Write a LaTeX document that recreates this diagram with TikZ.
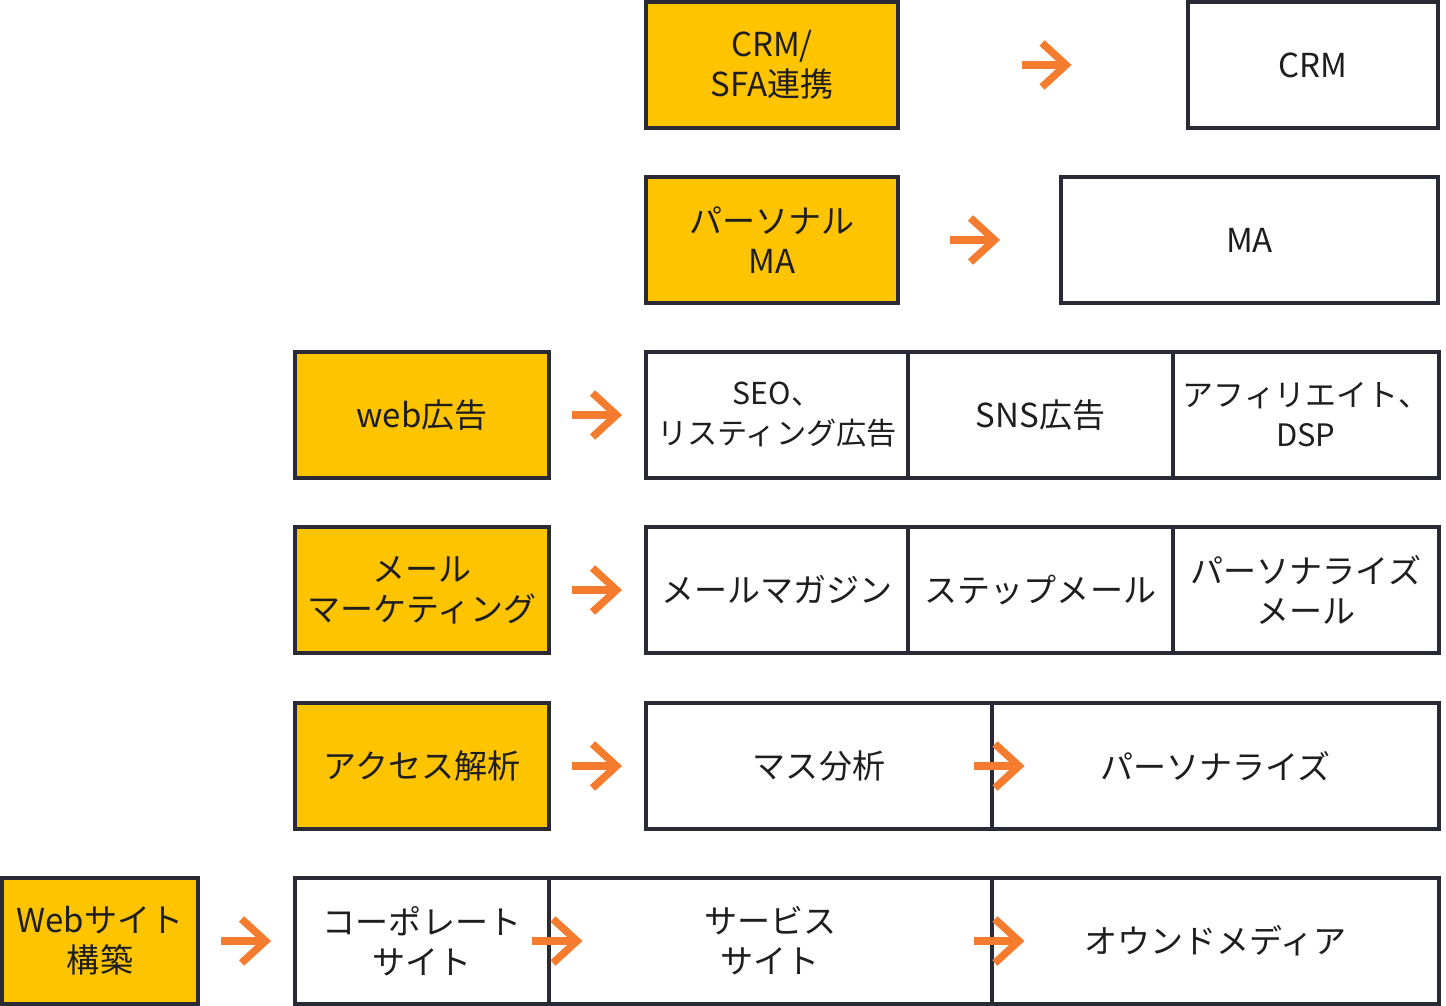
\documentclass[tikz,border=0pt]{standalone}
\usepackage{fontspec}
\setmainfont{Noto Sans CJK JP}
\usetikzlibrary{positioning,calc}
\definecolor{gold}{HTML}{FFC400}
\definecolor{edge}{HTML}{2A2936}
\definecolor{accent}{HTML}{F57C2F}
\definecolor{ink}{HTML}{1E1E1E}
\tikzstyle{plan} = [rectangle, minimum height=2.52cm, inner sep=0pt, outer sep=0pt, align=center, text=ink, draw=edge, line width=0.08cm, fill=gold, font=\fontsize{18.8}{22.7}\selectfont]
\tikzstyle{item} = [rectangle, minimum height=2.52cm, inner sep=0pt, outer sep=0pt, align=center, text=ink, draw=edge, line width=0.08cm, fill=white, font=\fontsize{18.8}{22.7}\selectfont]
\tikzstyle{tight} = [font=\fontsize{17.2}{22.7}\selectfont]
\tikzstyle{snug} = [font=\fontsize{17.6}{22.7}\selectfont]
\tikzstyle{arrowline} = [draw=accent, line width=0.15cm, miter limit=10]
\tikzset{flow/.pic={
  \draw[arrowline] (-25.5,0) -- (17,0);
  \draw[arrowline] (-5,-22) -- (19,0) -- (-5,22);
}}

\begin{document}
\begin{tikzpicture}[x=0.02cm, y=-0.02cm]
\useasboundingbox (0,0) rectangle (1446,1006);
% CRM/SFA
\node (crmsfa) [plan, minimum width=5.04cm] at (772,65) {CRM/\\SFA連携};
\node (crm) [item, minimum width=5.0cm] at (1313,65) {CRM};
% personal MA
\node (pma) [plan, minimum width=5.04cm] at (772,240) {パーソナル\\MA};
\node (ma) [item, minimum width=7.54cm] at (1249.5,240) {MA};
% web ads
\node (webad) [plan, minimum width=5.08cm] at (422,415) {web広告};
\node (seo) [item, tight, minimum width=5.24cm] at (777,415) {SEO、\\リスティング広告};
\node (sns) [item, minimum width=5.3cm, right=0pt of seo] {SNS広告};
\node (affi) [item, snug, minimum width=5.32cm, right=0pt of sns] {アフィリエイト、\\DSP};
% mail
\node (mail) [plan, minimum width=5.08cm] at (422,590) {メール\\マーケティング};
\node (magazine) [item, minimum width=5.24cm] at (777,590) {メールマガジン};
\node (stepmail) [item, minimum width=5.3cm, right=0pt of magazine] {ステップメール};
\node (psmail) [item, minimum width=5.32cm, right=0pt of stepmail] {パーソナライズ\\メール};
% access analysis
\node (access) [plan, minimum width=5.08cm] at (422,766) {アクセス解析};
\node (mass) [item, minimum width=6.92cm] at (819,766) {マス分析};
\node (pers) [item, minimum width=8.94cm, right=0pt of mass] {パーソナライズ};
% website
\node (website) [plan, minimum width=3.92cm] at (100,941) {Webサイト\\構築};
\node (corp) [item, minimum width=5.08cm] at (422,941) {コーポレート\\サイト};
\node (service) [item, minimum width=8.86cm, right=0pt of corp] {サービス\\サイト};
\node (owned) [item, minimum width=8.94cm, right=0pt of service] {オウンドメディア};

\pic at ($(crmsfa.east)!0.5!(crm.west)+(4,0)$) {flow};
\pic at ($(pma.east)!0.5!(ma.west)-(4,0)$) {flow};
\pic at ($(webad.east)!0.5!(seo.west)$) {flow};
\pic at ($(mail.east)!0.5!(magazine.west)$) {flow};
\pic at ($(access.east)!0.5!(mass.west)$) {flow};
\pic at ($(mass.east)+(8,0)$) {flow};
\pic at ($(website.east)!0.5!(corp.west)$) {flow};
\pic at ($(corp.east)+(9,0)$) {flow};
\pic at ($(service.east)+(8,0)$) {flow};
\end{tikzpicture}
\end{document}
